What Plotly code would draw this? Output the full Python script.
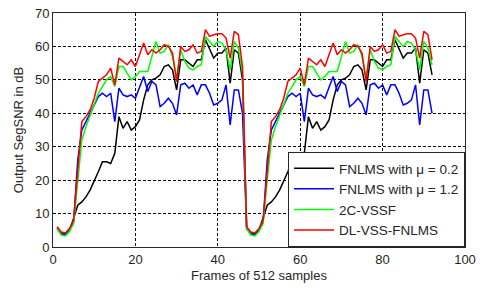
import plotly.graph_objects as go

frames = list(range(1, 93))

fnlms_02 = [5.5, 4, 3.8, 5, 8.5, 12.5, 13.5, 15, 17, 19.5, 22.5, 25.5, 25.5, 25, 28, 39,
            35.5, 37.5, 35, 36, 38, 44, 48.5, 50, 50.5, 51.5, 54, 54.5, 53, 47, 56, 56,
            55, 54, 56, 56, 62, 59, 56.5, 58, 58, 59.5, 49, 59, 58, 50,
            5.5, 4, 3.8, 5, 8.5, 12.5, 13.5, 15, 17, 19.5, 22.5, 25.5, 25.5, 25, 28, 39,
            35.5, 37.5, 35, 36, 38, 44, 48.5, 50, 50.5, 51.5, 54, 54.5, 53, 47, 56, 56,
            55, 54, 56, 56, 62, 59, 56.5, 58, 58, 59.5, 49, 59, 58, 51.5]

fnlms_12 = [5.8, 4, 3.8, 5, 7.5, 26, 35, 37.5, 40, 42, 45, 46, 45, 46, 37.5, 47.5,
            45.5, 45, 45.5, 44.5, 47.5, 51, 46.5, 49.5, 48.5, 42, 43, 44.5, 43, 39.5, 48.5, 49,
            47.5, 48.5, 45.5, 48.5, 48.5, 46, 42.5, 43, 44, 48.5, 36.5, 47, 47, 40,
            5.8, 4, 3.8, 5, 7.5, 26, 35, 37.5, 40, 42, 45, 46, 45, 46, 37.5, 47.5,
            45.5, 45, 45.5, 44.5, 47.5, 51, 46.5, 49.5, 48.5, 42, 43, 44.5, 43, 39.5, 48.5, 49,
            47.5, 48.5, 45.5, 48.5, 48.5, 46, 42.5, 43, 44, 48.5, 36.5, 47, 47, 40]

vssf_2c = [5.5, 3.6, 3.3, 4.6, 7, 20, 32, 36, 39.5, 42.5, 46, 48, 50, 51, 48, 54,
           54, 52, 50, 51, 52.5, 52.5, 52.5, 57, 61.5, 58, 58.5, 60.5, 57, 50.5, 59, 55.5,
           53.5, 53, 54, 54.5, 63, 61.5, 60, 61.5, 61, 59, 53, 61.5, 59.5, 52,
           5.5, 3.6, 3.3, 4.6, 7, 20, 32, 36, 39.5, 42.5, 46, 48, 50, 51, 48, 54,
           54, 52, 50, 51, 52.5, 52.5, 52.5, 57, 61.5, 58, 58.5, 60.5, 57, 50.5, 59, 55.5,
           53.5, 53, 54, 54.5, 63, 61.5, 60, 61.5, 61, 59, 53, 61.5, 59.5, 54.5]

dl_vss = [6.1, 4.5, 4.2, 5.5, 8, 24, 37.5, 39, 41, 44.5, 49.5, 50.5, 51.5, 53.5, 48.5, 56.5,
          55.5, 54.5, 56, 54, 57.5, 61, 57.5, 59, 58, 59, 60.5, 60, 58, 49.5, 60, 58.5,
          59, 60.5, 58, 58.5, 65, 63, 63.5, 63.8, 63.8, 62.5, 56.5, 64.5, 63.5, 54,
          6.1, 4.5, 4.2, 5.5, 8, 24, 37.5, 39, 41, 44.5, 49.5, 50.5, 51.5, 53.5, 48.5, 56.5,
          55.5, 54.5, 56, 54, 57.5, 61, 57.5, 59, 58, 59, 60.5, 60, 58, 49.5, 60, 58.5,
          59, 60.5, 58, 58.5, 65, 63, 63.5, 63.8, 63.8, 62.5, 56.5, 64.5, 63.5, 56]

names = ["FNLMS with \u03bc = 0.2", "FNLMS with \u03bc = 1.2", "2C-VSSF", "DL-VSS-FNLMS"]
series = [fnlms_02, fnlms_12, vssf_2c, dl_vss]
colors = ["#000000", "#0000FF", "#00FF00", "#FF0000"]

x_ticks = [0, 20, 40, 60, 80, 100]
y_ticks = [0, 10, 20, 30, 40, 50, 60, 70]

FONT = "Arial, 'Liberation Sans', sans-serif"
TXT = "#262626"

fig = go.Figure()
for name, ys, c in zip(names, series, colors):
    fig.add_trace(go.Scatter(x=frames, y=ys, mode="lines", name=name,
                             line=dict(color=c, width=1.5)))

axis_common = dict(showline=True, mirror=True, linecolor=TXT, linewidth=1,
                   showgrid=True, gridcolor="#000000", gridwidth=1, griddash="3px,2px",
                   zeroline=False, ticks="",
                   tickfont=dict(family=FONT, size=13, color=TXT))

fig.update_xaxes(range=[0, 100], tickvals=x_ticks, automargin=False,
                 title=dict(text="Frames of 512 samples", font=dict(family=FONT, size=13, color=TXT),
                            standoff=5),
                 **axis_common)
fig.update_yaxes(range=[0, 70], tickvals=y_ticks, automargin="left",
                 title=dict(text="Output SegSNR in dB", font=dict(family=FONT, size=13, color=TXT),
                            standoff=8),
                 **axis_common)

fig.update_layout(
    width=480, height=292,
    margin=dict(l=53, r=15, t=13, b=45),
    paper_bgcolor="white", plot_bgcolor="white",
    font=dict(family=FONT, size=13, color=TXT),
    showlegend=True,
    legend=dict(x=1, y=0, xanchor="right", yanchor="bottom",
                bgcolor="white", bordercolor=TXT, borderwidth=1,
                font=dict(family=FONT, size=13.5, color=TXT),
                itemwidth=40, tracegroupgap=0),
)

fig.write_html("out.html", config={"displayModeBar": False},
               post_script="document.body.style.margin='0';document.body.style.overflow='hidden';")
